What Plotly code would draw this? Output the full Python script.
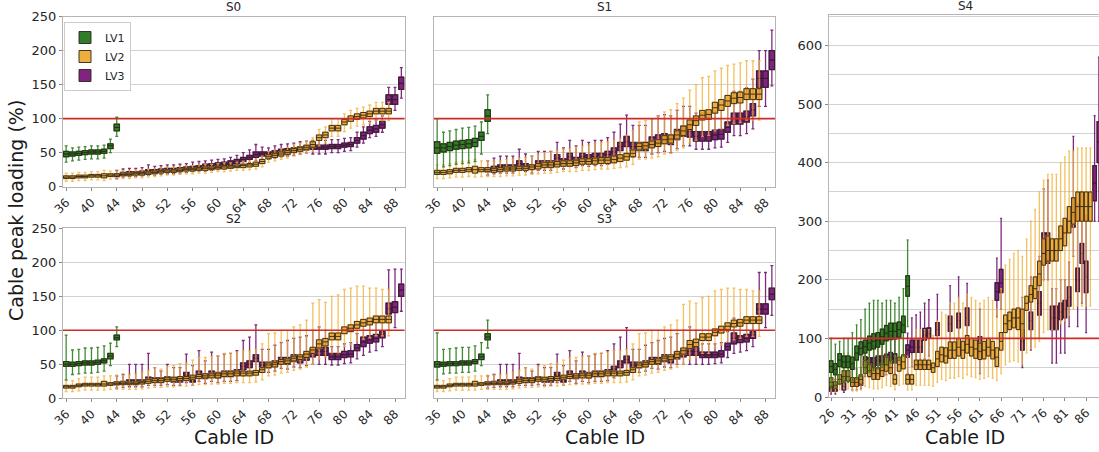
import plotly.graph_objects as go

# ---------------- data ----------------
X_LV1 = list(range(36, 45))
X_LV2 = list(range(36, 88))
X_LV3 = list(range(44, 90))
TICKS_S = list(range(36, 89, 4))

# S0
S0_LV1_MED = [48, 48, 49, 50, 51, 51, 52, 60, 87]
S0_LV1_Q1 = [44, 45, 46, 47, 48, 48, 49, 56, 82]
S0_LV1_Q3 = [52, 51, 52, 53, 54, 54, 55, 63, 92]
S0_LV1_LO = [36, 38, 39, 40, 41, 41, 42, 50, 74]
S0_LV1_HI = [60, 57, 58, 59, 60, 60, 61, 70, 102]

S0_LV2_MED = [14,14,15,15,16,16,16,17,17,18,18,19,19,20,21,22,23,23,24,25,25,26,27,27,28,29,29,30,31,32,33,37,44,46,48,50,53,55,58,62,72,76,86,86,95,100,103,105,107,111,111,111]
S0_LV2_Q1 = [12,12,13,13,14,14,13,15,15,16,16,17,17,18,19,20,21,21,22,23,23,24,24,25,26,26,27,28,28,29,30,34,41,43,45,47,50,52,55,58,68,72,82,82,91,96,99,101,103,107,107,107]
S0_LV2_Q3 = [16,16,17,17,18,18,19,19,19,20,20,21,21,22,23,24,25,25,26,27,27,28,29,29,30,31,31,32,33,34,36,40,47,49,51,53,56,58,61,66,76,80,90,90,99,104,107,109,111,115,115,115]
S0_LV2_LO = [8,8,9,9,10,10,9,11,11,12,12,13,13,14,15,16,17,17,18,19,19,20,20,21,22,22,23,24,24,25,26,29,36,38,40,42,45,47,49,52,60,64,74,74,81,86,89,91,93,97,97,97]
S0_LV2_HI = [20,20,21,21,22,22,24,23,23,24,24,25,25,26,27,28,29,29,30,31,31,32,33,33,34,35,35,36,37,38,41,45,52,54,56,58,62,64,67,72,84,88,100,100,107,112,115,117,120,124,124,124]

S0_LV3_MED = [17,19,20,20,21,23,23,24,25,25,26,27,28,29,30,31,32,33,35,37,40,43,47,48,48,50,52,53,54,56,57,58,58,58,59,59,61,62,68,75,83,85,91,128,128,152]
S0_LV3_Q1 = [15,17,18,18,19,21,21,22,23,23,24,25,26,27,27,28,29,30,32,34,37,40,43,45,45,47,49,50,51,53,54,55,55,55,56,56,58,59,64,70,78,80,86,121,121,143]
S0_LV3_Q3 = [19,21,22,22,23,25,25,26,27,27,28,29,30,31,33,34,35,36,38,40,43,46,51,51,51,53,55,56,57,59,60,61,61,61,62,62,64,65,72,80,88,90,96,135,135,161]
S0_LV3_LO = [12,14,15,15,16,17,17,18,19,19,20,21,22,23,23,24,25,26,28,30,33,35,38,40,40,42,44,45,46,48,49,48,48,48,50,50,52,53,58,64,72,74,80,112,112,130]
S0_LV3_HI = [24,26,27,27,28,32,30,31,32,32,33,34,36,37,38,39,40,41,43,46,50,54,62,58,57,60,62,63,64,66,67,68,68,68,69,69,71,72,80,88,96,98,104,146,146,175]

# S1
S1_LV1_MED = [57, 57, 59, 61, 62, 63, 65, 74, 104]
S1_LV1_Q1 = [49, 51, 53, 55, 56, 57, 59, 68, 96]
S1_LV1_Q3 = [66, 63, 65, 67, 68, 69, 71, 80, 113]
S1_LV1_LO = [20, 29, 31, 33, 34, 35, 37, 48, 78]
S1_LV1_HI = [100, 80, 82, 84, 86, 87, 89, 95, 135]

S1_LV2_MED = [21,21,22,24,24,25,25,25,25,24,25,26,26,27,27,29,30,32,32,33,34,34,35,37,37,38,39,39,40,42,44,49,59,60,62,64,69,70,76,82,91,97,105,106,116,120,126,130,131,136,136,136]
S1_LV2_Q1 = [18,18,19,21,21,22,20,22,22,21,22,23,23,24,24,25,26,28,28,29,30,30,31,33,33,33,34,34,35,37,39,44,54,55,57,59,63,64,70,75,84,90,98,99,108,112,118,122,123,128,128,128]
S1_LV2_Q3 = [24,24,25,27,27,28,30,28,28,27,28,29,29,30,30,32,34,36,36,37,38,38,39,41,41,42,43,43,45,47,49,54,64,65,67,69,75,76,82,89,98,104,112,113,124,128,134,138,139,144,144,144]
S1_LV2_LO = [12,12,13,14,14,15,14,15,15,15,15,16,16,17,17,18,19,20,20,21,22,22,22,24,24,25,26,26,27,28,29,33,40,41,42,44,48,49,53,57,64,68,74,75,82,85,90,93,94,98,98,98]
S1_LV2_HI = [32,32,34,36,37,38,40,38,38,37,38,40,40,42,43,45,47,50,51,53,55,56,58,60,61,63,65,66,68,71,75,82,95,97,100,104,110,113,122,130,142,150,160,162,170,174,178,180,182,185,185,185]

S1_LV3_MED = [25,27,29,29,29,34,31,29,34,34,34,42,37,44,39,44,42,44,44,47,51,59,66,59,59,59,66,69,71,69,76,81,81,74,74,74,76,77,87,100,100,103,113,159,159,186]
S1_LV3_Q1 = [22,24,26,26,26,30,28,26,30,30,30,37,33,39,35,39,37,39,39,42,45,53,59,53,53,53,59,62,64,62,69,74,73,67,67,67,69,70,80,92,92,95,104,146,146,172]
S1_LV3_Q3 = [28,30,32,32,32,38,34,32,38,38,38,47,41,49,43,49,47,49,49,52,57,65,74,65,65,65,73,76,78,76,84,89,90,81,81,81,83,84,95,108,108,111,122,170,170,200]
S1_LV3_LO = [17,19,20,20,20,24,22,20,24,24,24,30,26,31,28,31,30,31,31,33,36,42,47,43,43,43,48,50,52,50,56,60,60,55,55,55,57,58,65,75,75,78,85,118,118,148]
S1_LV3_HI = [38,42,45,45,45,55,48,45,52,52,52,65,57,68,60,68,65,68,68,72,80,92,105,90,90,90,100,104,106,104,112,118,118,108,108,108,110,112,125,140,140,145,158,200,200,230]

# S2
S2_LV1_MED = [50, 50, 51, 52, 52, 53, 55, 62, 89]
S2_LV1_Q1 = [47, 47, 48, 49, 49, 50, 52, 58, 86]
S2_LV1_Q3 = [54, 53, 54, 55, 55, 56, 58, 66, 93]
S2_LV1_LO = [27, 35, 36, 37, 37, 38, 40, 48, 76]
S2_LV1_HI = [93, 71, 72, 74, 74, 75, 77, 81, 105]

S2_LV2_MED = [17,17,19,20,20,20,21,21,22,22,22,22,23,25,26,26,28,28,29,29,31,32,33,34,34,36,36,37,37,37,38,42,49,50,54,55,59,61,65,71,80,83,91,91,100,103,108,111,113,116,116,116]
S2_LV2_Q1 = [15,15,17,18,18,18,18,19,20,20,20,20,21,22,23,23,25,25,26,26,28,29,30,30,30,32,32,33,33,33,34,38,45,46,50,51,55,57,60,66,74,77,86,86,95,98,103,106,108,111,111,111]
S2_LV2_Q3 = [19,19,21,22,22,22,25,23,24,24,24,24,25,28,29,29,31,31,32,32,34,35,36,37,37,39,39,40,40,40,41,45,52,53,57,58,62,64,69,75,86,88,96,96,105,108,113,116,118,121,121,121]
S2_LV2_LO = [10,10,11,12,12,12,12,13,13,13,13,13,14,15,16,16,17,17,18,18,19,20,20,21,21,22,22,23,23,23,24,27,33,34,37,38,41,43,46,50,58,61,67,67,76,79,84,87,89,92,92,92]
S2_LV2_HI = [26,26,29,31,31,31,33,33,34,34,35,36,38,41,45,43,47,48,51,52,56,60,60,62,62,66,66,68,70,70,72,80,95,96,100,100,105,108,115,140,145,141,150,152,160,162,165,165,162,162,160,160]

S2_LV3_MED = [22,23,25,25,25,28,27,27,29,27,27,34,27,36,32,36,34,36,36,38,47,50,59,49,49,51,56,55,59,57,61,66,69,69,61,61,64,65,74,83,86,88,93,132,134,159]
S2_LV3_Q1 = [20,21,23,23,23,25,24,24,26,24,24,30,24,32,29,32,30,32,32,34,42,45,54,45,45,47,51,50,54,52,56,61,63,63,57,57,60,61,70,76,81,83,89,124,126,150]
S2_LV3_Q3 = [24,25,27,27,27,31,30,30,32,30,30,38,30,40,36,40,38,40,40,42,52,55,64,53,53,55,60,60,64,62,66,72,75,75,66,66,69,70,79,90,92,94,98,140,142,168]
S2_LV3_LO = [15,16,17,17,17,19,19,19,20,19,19,23,19,25,22,25,23,25,25,26,33,35,37,38,38,40,44,43,46,45,48,50,50,50,49,49,51,52,58,63,68,70,76,100,104,128]
S2_LV3_HI = [33,35,50,50,50,66,45,40,50,45,45,65,48,70,55,68,62,65,66,70,85,90,108,72,72,78,82,85,88,90,92,100,105,100,76,76,80,82,95,110,112,112,118,189,190,190]

# S3
S3_LV1_MED = [50, 50, 51, 51, 52, 52, 54, 61, 90]
S3_LV1_Q1 = [46, 47, 48, 48, 49, 49, 51, 57, 86]
S3_LV1_Q3 = [54, 53, 54, 54, 55, 55, 57, 65, 95]
S3_LV1_LO = [27, 36, 37, 37, 38, 38, 40, 48, 74]
S3_LV1_HI = [96, 72, 73, 74, 75, 75, 77, 82, 115]

S3_LV2_MED = [17,17,19,20,20,20,21,21,22,22,22,22,23,25,26,26,28,28,29,29,31,32,33,34,34,36,36,37,37,37,38,42,49,50,54,55,59,61,65,70,79,82,90,90,97,101,106,110,111,115,115,115]
S3_LV2_Q1 = [15,15,17,18,18,18,18,19,20,20,20,20,21,22,23,23,25,25,26,26,28,29,30,30,30,32,32,33,33,33,34,38,45,46,50,51,55,57,60,65,73,76,85,85,92,96,101,105,106,110,110,110]
S3_LV2_Q3 = [19,19,21,22,22,22,25,23,24,24,24,24,25,28,29,29,31,31,32,32,34,35,36,37,37,39,39,40,40,40,41,45,52,53,57,58,62,64,69,74,85,87,95,95,102,106,111,115,116,120,120,120]
S3_LV2_LO = [10,10,11,12,12,12,12,13,13,13,13,13,14,15,16,16,17,17,18,18,19,20,20,21,21,22,22,23,23,23,24,27,33,34,37,38,41,43,46,50,57,60,66,66,74,78,83,86,88,91,91,91]
S3_LV2_HI = [26,26,29,31,31,31,33,33,34,34,35,36,38,41,45,43,47,48,51,52,56,60,60,62,62,66,66,68,70,70,72,80,95,96,100,100,105,108,115,138,143,140,148,150,158,160,162,162,160,160,158,158]

S3_LV3_MED = [22,23,25,25,25,28,27,27,29,27,27,34,27,36,32,36,34,36,36,38,43,50,57,49,49,51,56,55,59,57,63,66,69,69,64,64,64,65,76,88,87,88,93,131,131,153]
S3_LV3_Q1 = [20,21,23,23,23,25,24,24,26,24,24,30,24,32,29,32,30,32,32,34,39,45,52,45,45,47,51,50,54,52,58,61,63,63,60,60,60,61,71,80,82,83,88,124,124,145]
S3_LV3_Q3 = [24,25,27,27,27,31,30,30,32,30,30,38,30,40,36,40,38,40,40,42,47,55,62,53,53,55,60,60,64,62,68,72,75,75,68,68,68,70,81,96,92,94,98,139,139,162]
S3_LV3_LO = [15,16,17,17,17,19,19,19,20,19,19,23,19,25,22,25,23,25,25,26,30,35,37,38,38,40,44,43,46,45,50,50,50,50,50,50,51,52,60,66,68,70,76,100,104,122]
S3_LV3_HI = [33,35,50,50,50,66,45,40,50,45,45,65,48,70,55,68,62,65,66,70,80,90,104,72,72,78,82,85,88,90,95,100,105,100,80,80,80,82,98,118,112,112,118,185,185,195]

# S4
X4_LV1 = list(range(26, 45))
X4_LV2 = list(range(26, 88))
X4_LV3 = [26,27,29,31,32,33,34,35,36,37,38,39,40,41,44,45,46,47,48,49,51,54,56,58,61,65,66,71,73,75,76,77,78,79,80,81,82,83,84,85,86,88,89]
TICKS_S4 = list(range(26, 87, 5))

S4_LV1_MED = [52,47,63,60,60,57,75,83,86,92,95,97,103,109,112,112,115,123,189]
S4_LV1_Q1 = [42,38,52,50,50,47,63,72,75,80,82,85,90,96,98,99,102,110,172]
S4_LV1_Q3 = [62,57,74,70,70,68,87,94,97,104,108,110,116,122,126,126,128,138,207]
S4_LV1_LO = [15,18,22,25,25,28,30,35,40,42,45,48,50,55,58,60,62,70,120]
S4_LV1_HI = [100,90,95,100,100,110,123,132,150,160,165,165,160,165,165,160,170,185,268]

S4_LV2_MED = [25,20,30,35,35,25,25,30,50,45,40,40,45,55,50,30,55,60,30,30,55,55,55,55,50,65,72,70,80,80,85,80,90,85,82,78,80,85,80,68,95,125,130,135,135,125,160,175,185,210,245,250,250,250,270,280,300,315,325,325,325,325]
S4_LV2_Q1 = [18,15,22,27,27,18,18,22,40,35,30,30,35,44,40,22,44,48,22,22,47,47,47,47,42,52,60,58,66,66,70,66,75,70,66,64,65,70,65,52,80,110,115,118,115,100,148,162,168,190,225,232,232,232,250,258,280,295,300,300,300,300]
S4_LV2_Q3 = [33,26,38,45,45,33,33,38,62,56,50,50,56,68,62,38,68,72,38,38,63,63,63,63,58,78,85,84,94,94,100,95,105,100,97,92,95,100,95,84,110,140,145,150,152,150,172,190,205,232,270,275,270,270,292,305,325,340,350,350,350,350]
S4_LV2_LO = [10,8,12,14,14,10,10,12,18,16,14,14,16,20,18,12,20,22,12,12,20,20,20,20,18,25,30,28,32,32,35,32,38,35,33,30,32,35,32,28,40,55,60,62,60,55,75,82,85,95,110,115,115,115,125,130,140,150,155,155,155,155]
S4_LV2_HI = [55,45,65,75,75,60,60,70,100,95,85,85,95,110,100,70,110,120,70,70,115,115,115,115,105,130,145,140,160,160,170,160,175,170,165,160,165,170,165,150,185,225,235,245,250,240,270,300,320,350,370,380,380,380,400,410,420,420,425,425,425,425]

S4_LV3_MED = [15,15,18,25,25,28,60,58,58,62,62,65,68,66,80,85,85,85,105,108,115,125,130,135,88,180,195,95,130,160,255,255,135,135,145,150,170,310,200,245,205,365,435]
S4_LV3_Q1 = [10,10,12,18,18,20,52,50,50,54,54,57,60,58,68,76,76,76,97,100,105,112,118,122,75,165,178,80,115,140,228,228,115,115,132,135,155,290,180,228,178,335,400]
S4_LV3_Q3 = [20,20,24,32,32,35,69,67,67,70,70,73,76,74,89,97,97,97,117,118,127,138,143,152,103,195,218,115,145,180,280,280,155,155,160,165,188,340,220,262,232,395,470]
S4_LV3_LO = [5,5,8,12,12,14,35,33,33,36,36,38,40,40,40,52,52,52,65,70,75,85,90,95,40,137,150,50,80,100,200,200,58,58,75,75,120,240,120,160,110,300,300]
S4_LV3_HI = [30,30,35,48,48,50,90,88,88,95,95,100,105,100,109,135,140,145,160,166,175,190,205,194,150,237,305,170,205,240,355,370,185,185,200,200,230,445,330,350,310,480,580]

LIMIT = 100
SERIES_NAMES = ["LV1", "LV2", "LV3"]

# ---------------- styles ----------------
W_COL = {"LV1": "rgba(45,125,30,0.9)", "LV2": "rgba(240,178,55,0.8)", "LV3": "rgba(112,20,112,0.9)"}
F_COL = {"LV1": "rgba(25,110,15,0.9)", "LV2": "rgba(236,163,35,0.88)", "LV3": "rgba(112,5,112,0.88)"}
EDGE = "rgba(45,35,30,0.9)"

fig = go.Figure()


def add_series(ax, xs, med, q1, q3, lo, hi, name, legend):
    xa = "x" + ("" if ax == 1 else str(ax))
    ya = "y" + ("" if ax == 1 else str(ax))
    fig.add_trace(go.Box(
        x=xs, median=med, q1=q1, q3=q3, lowerfence=lo, upperfence=hi,
        xaxis=xa, yaxis=ya, width=0.85, whiskerwidth=0.55, boxpoints=False,
        line=dict(color=W_COL[name], width=1.3), fillcolor="rgba(0,0,0,0)",
        showlegend=False, hoverinfo="skip"))
    fig.add_trace(go.Box(
        x=xs, median=med, q1=q1, q3=q3, lowerfence=q1, upperfence=q3,
        xaxis=xa, yaxis=ya, width=0.85, whiskerwidth=0, boxpoints=False,
        line=dict(color=EDGE, width=1), fillcolor=F_COL[name],
        name=name, showlegend=legend, legendrank={"LV1": 1, "LV2": 2, "LV3": 3}[name],
        hoverinfo="skip"))


panels = [
    (1, X_LV1, X_LV2, X_LV3,
     (S0_LV1_MED, S0_LV1_Q1, S0_LV1_Q3, S0_LV1_LO, S0_LV1_HI),
     (S0_LV2_MED, S0_LV2_Q1, S0_LV2_Q3, S0_LV2_LO, S0_LV2_HI),
     (S0_LV3_MED, S0_LV3_Q1, S0_LV3_Q3, S0_LV3_LO, S0_LV3_HI)),
    (2, X_LV1, X_LV2, X_LV3,
     (S1_LV1_MED, S1_LV1_Q1, S1_LV1_Q3, S1_LV1_LO, S1_LV1_HI),
     (S1_LV2_MED, S1_LV2_Q1, S1_LV2_Q3, S1_LV2_LO, S1_LV2_HI),
     (S1_LV3_MED, S1_LV3_Q1, S1_LV3_Q3, S1_LV3_LO, S1_LV3_HI)),
    (3, X_LV1, X_LV2, X_LV3,
     (S2_LV1_MED, S2_LV1_Q1, S2_LV1_Q3, S2_LV1_LO, S2_LV1_HI),
     (S2_LV2_MED, S2_LV2_Q1, S2_LV2_Q3, S2_LV2_LO, S2_LV2_HI),
     (S2_LV3_MED, S2_LV3_Q1, S2_LV3_Q3, S2_LV3_LO, S2_LV3_HI)),
    (4, X_LV1, X_LV2, X_LV3,
     (S3_LV1_MED, S3_LV1_Q1, S3_LV1_Q3, S3_LV1_LO, S3_LV1_HI),
     (S3_LV2_MED, S3_LV2_Q1, S3_LV2_Q3, S3_LV2_LO, S3_LV2_HI),
     (S3_LV3_MED, S3_LV3_Q1, S3_LV3_Q3, S3_LV3_LO, S3_LV3_HI)),
    (5, X4_LV1, X4_LV2, X4_LV3,
     (S4_LV1_MED, S4_LV1_Q1, S4_LV1_Q3, S4_LV1_LO, S4_LV1_HI),
     (S4_LV2_MED, S4_LV2_Q1, S4_LV2_Q3, S4_LV2_LO, S4_LV2_HI),
     (S4_LV3_MED, S4_LV3_Q1, S4_LV3_Q3, S4_LV3_LO, S4_LV3_HI)),
]

for ax, x1, x2, x3, d1, d2, d3 in panels:
    leg = ax == 1
    add_series(ax, x3, *d3, "LV3", leg)
    add_series(ax, x2, *d2, "LV2", leg)
    add_series(ax, x1, *d1, "LV1", leg)

# ---------------- layout ----------------
W, H = 1099, 452


def px_x(a, b):
    return [a / W, b / W]


def px_y(top, bottom):
    return [(H - bottom) / H, (H - top) / H]


FRAME = "#b5b5b5"
GRID = "#d2d2d2"
TICKFONT = dict(family="DejaVu Sans", size=12, color="#262626")

dom = {
    1: (px_x(63, 404.5), px_y(16.5, 186.7)),
    2: (px_x(434, 775), px_y(16.5, 186.7)),
    3: (px_x(63, 404.5), px_y(228.3, 398.3)),
    4: (px_x(434, 775), px_y(228.3, 398.3)),
    5: (px_x(829, 1099), px_y(15, 397)),
}

layout = dict(
    width=W, height=H, margin=dict(l=0, r=0, t=0, b=0, autoexpand=False),
    paper_bgcolor="white", plot_bgcolor="white",
    boxmode="overlay",
    font=dict(family="DejaVu Sans", color="#262626"),
    legend=dict(x=64 / W, y=(H - 22) / H, xanchor="left", yanchor="top",
                bgcolor="rgba(255,255,255,0.9)", bordercolor="#cccccc", borderwidth=1,
                font=dict(family="DejaVu Sans", size=11, color="#262626"),
                tracegroupgap=0, itemwidth=30),
)

for ax in range(1, 6):
    xk = "xaxis" + ("" if ax == 1 else str(ax))
    yk = "yaxis" + ("" if ax == 1 else str(ax))
    xd, yd = dom[ax]
    anchor_y = "y" + ("" if ax == 1 else str(ax))
    anchor_x = "x" + ("" if ax == 1 else str(ax))
    if ax < 5:
        tv = TICKS_S
        xr = [35.5, 89.5]
        yr = [0, 250]
        ytv = [0, 50, 100, 150, 200, 250]
        ytt = [str(v) for v in ytv] if ax in (1, 3) else [""] * len(ytv)
        minor = None
    else:
        tv = TICKS_S4
        xr = [25.5, 89.03]
        yr = [0, 652]
        ytv = [0, 100, 200, 300, 400, 500, 600]
        ytt = [str(v) for v in ytv]
        minor = dict(tickvals=[50, 150, 250, 350, 450, 550, 650], showgrid=True,
                     gridcolor=GRID, gridwidth=1, ticks="")
    layout[xk] = dict(domain=xd, anchor=anchor_y, range=xr, tickmode="array",
                      tickvals=tv, ticktext=[str(v) for v in tv], tickangle=-45,
                      showgrid=False, zeroline=False, showline=True, mirror=True,
                      linecolor=FRAME, linewidth=1, ticks="outside", ticklen=3,
                      tickcolor="#888888", tickfont=TICKFONT, automargin=False)
    yaxis = dict(domain=yd, anchor=anchor_x, range=yr, tickmode="array",
                 tickvals=ytv, ticktext=ytt, showgrid=True, gridcolor=GRID, gridwidth=1,
                 zeroline=False, showline=True, mirror=True if ax < 5 else False,
                 linecolor=FRAME, linewidth=1, ticks="outside" if ax in (1, 3, 5) else "",
                 ticklen=3, tickcolor="#888888", automargin=False,
                 tickfont=dict(family="DejaVu Sans", size=13, color="#262626"))
    if minor:
        yaxis["minor"] = minor
    layout[yk] = yaxis

fig.update_layout(**layout)

# limit lines
for ax in range(1, 6):
    sfx = "" if ax == 1 else str(ax)
    fig.add_shape(type="line", xref="x" + sfx + " domain", yref="y" + sfx,
                  x0=0, x1=1, y0=LIMIT, y1=LIMIT, layer="above",
                  line=dict(color="rgb(205,45,40)", width=1.6))

# subplot titles
titles = [("S0", 1), ("S1", 2), ("S2", 3), ("S3", 4), ("S4", 5)]
for t, ax in titles:
    xd, yd = dom[ax]
    cx = (xd[0] + xd[1]) / 2 if ax < 5 else (829 + 136) / W
    fig.add_annotation(text=t, x=cx, y=yd[1], xref="paper", yref="paper",
                       xanchor="center", yanchor="bottom", yshift=0, showarrow=False,
                       font=dict(family="DejaVu Sans", size=12, color="#262626"))

# axis titles
for cx in [(63 + 404.5) / 2, (434 + 775) / 2, 965]:
    fig.add_annotation(text="Cable ID", x=cx / W, y=(H - 437) / H, xref="paper", yref="paper",
                       xanchor="center", yanchor="middle", showarrow=False,
                       font=dict(family="DejaVu Sans", size=19, color="#1a1a1a"))
fig.add_annotation(text="Cable peak loading (%)", x=16 / W, y=(H - 211) / H,
                   xref="paper", yref="paper", textangle=-90, xanchor="center",
                   yanchor="middle", showarrow=False,
                   font=dict(family="DejaVu Sans", size=19, color="#1a1a1a"))

fig.write_html("out.html")
